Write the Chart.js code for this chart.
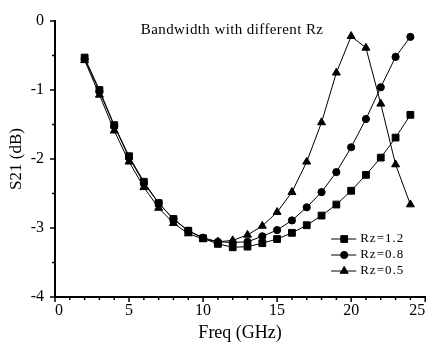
<!DOCTYPE html>
<html>
<head>
<meta charset="utf-8">
<script src="https://cdn.jsdelivr.net/npm/chart.js@4/dist/chart.umd.min.js"></script>
<style>
    html, body { margin: 0; padding: 0; background: #fff; }
    #wrap { width: 431px; height: 344px; }
</style>
</head>
<body>
<div id="wrap"><canvas id="chart"></canvas></div>
<script>
// Freq (GHz)
const freqs = [2, 3, 4, 5, 6, 7, 8, 9, 10, 11, 12, 13, 14, 15, 16, 17, 18, 19, 20, 21, 22, 23, 24];

// S21 (dB) per Rz
const rz12 = [-0.53, -1.00, -1.51, -1.96, -2.33, -2.64, -2.87, -3.04, -3.15, -3.23, -3.28, -3.27, -3.22, -3.16, -3.07, -2.96, -2.82, -2.66, -2.46, -2.23, -1.98, -1.69, -1.36];
const rz08 = [-0.55, -1.02, -1.52, -1.98, -2.35, -2.64, -2.87, -3.04, -3.14, -3.20, -3.21, -3.20, -3.12, -3.03, -2.89, -2.70, -2.48, -2.19, -1.83, -1.42, -0.96, -0.52, -0.23];
const rz05 = [-0.57, -1.07, -1.59, -2.04, -2.41, -2.71, -2.93, -3.08, -3.16, -3.20, -3.18, -3.10, -2.97, -2.77, -2.48, -2.04, -1.47, -0.75, -0.22, -0.39, -1.20, -2.08, -2.66];

const seriesLabels = ['Rz=1.2', 'Rz=0.8', 'Rz=0.5'];
const seriesMarkers = ['rect', 'circle', 'triangle'];
const chartTitle = 'Bandwidth with different Rz';

const FONT = '"Liberation Serif", "Times New Roman", serif';

const toPoints = vals => vals.map((v, i) => ({ x: freqs[i], y: v }));

// ticks drawn by hand: major + minor, outward
const tickMarks = {
    id: 'tickMarks',
    afterDraw(chart) {
        const { ctx, chartArea, scales: { x, y } } = chart;
        ctx.save();
        ctx.strokeStyle = '#000';
        ctx.lineWidth = 1.5;
        for (let v = x.min; v <= x.max; v += 1) {
            const px = x.getPixelForValue(v);
            const len = v % 5 === 0 ? 5 : 3;
            ctx.beginPath();
            ctx.moveTo(px, chartArea.bottom);
            ctx.lineTo(px, chartArea.bottom + len);
            ctx.stroke();
        }
        for (let v = y.max; v >= y.min; v -= 0.5) {
            const py = y.getPixelForValue(v);
            const len = Number.isInteger(v) ? 5 : 3;
            ctx.beginPath();
            ctx.moveTo(chartArea.left, py);
            ctx.lineTo(chartArea.left - len, py);
            ctx.stroke();
        }
        ctx.restore();
    }
};

// title inside the plot
const innerTitle = {
    id: 'innerTitle',
    afterDraw(chart) {
        const { ctx, chartArea } = chart;
        ctx.save();
        ctx.fillStyle = '#000';
        ctx.font = '15px ' + FONT;
        ctx.letterSpacing = '0.4px';
        ctx.textAlign = 'center';
        ctx.textBaseline = 'middle';
        ctx.fillText(chartTitle, (chartArea.left + chartArea.right) / 2 - 8, chartArea.top + 9);
        ctx.restore();
    }
};

// legend: line with marker, bottom right inside plot
const innerLegend = {
    id: 'innerLegend',
    afterDraw(chart) {
        const { ctx, chartArea } = chart;
        const x0 = chartArea.right - 94;
        const y0 = chartArea.bottom - 58;
        ctx.save();
        ctx.font = '13px ' + FONT;
        ctx.letterSpacing = '1px';
        ctx.textBaseline = 'middle';
        chart.data.datasets.forEach((ds, i) => {
            const yy = y0 + i * 16;
            ctx.strokeStyle = '#000';
            ctx.lineWidth = 1;
            ctx.beginPath();
            ctx.moveTo(x0, yy);
            ctx.lineTo(x0 + 25, yy);
            ctx.stroke();
            ctx.fillStyle = '#000';
            Chart.helpers.drawPoint(ctx, {
                pointStyle: ds.pointStyle,
                radius: ds.pointRadius,
                borderWidth: 1
            }, x0 + 13, yy);
            ctx.fillStyle = '#000';
            ctx.fillText(ds.label, x0 + 29, yy);
        });
        ctx.restore();
    }
};

const datasets = [rz12, rz08, rz05].map((vals, i) => ({
    label: seriesLabels[i],
    data: toPoints(vals),
    borderColor: '#000',
    backgroundColor: '#000',
    borderWidth: 1,
    pointStyle: seriesMarkers[i],
    pointRadius: i === 0 ? 4.8 : (i === 1 ? 3.6 : 4.6),
    pointBackgroundColor: '#000',
    pointBorderColor: '#000',
    pointBorderWidth: 1,
    tension: 0
}));

new Chart(document.getElementById('chart'), {
    type: 'line',
    data: { datasets },
    options: {
        responsive: true,
        maintainAspectRatio: false,
        animation: false,
        layout: { padding: { top: 21, right: 4, left: 0, bottom: 0 } },
        plugins: {
            legend: { display: false },
            tooltip: { enabled: false }
        },
        scales: {
            x: {
                type: 'linear',
                min: 0,
                max: 25,
                border: { display: true, color: '#000', width: 2 },
                grid: { display: false, drawTicks: false },
                ticks: {
                    stepSize: 5,
                    color: '#000',
                    padding: 4,
                    maxRotation: 0,
                    align: 'inner',
                    font: { family: FONT, size: 16 }
                },
                title: {
                    display: true,
                    text: 'Freq (GHz)',
                    color: '#000',
                    font: { family: FONT, size: 18 },
                    padding: { top: 0, bottom: 0 }
                },
                afterFit(s) {
                    s.height = 47;
                    s.paddingLeft = 0;
                    s.paddingRight = 0;
                }
            },
            y: {
                min: -4,
                max: 0,
                border: { display: true, color: '#000', width: 2 },
                grid: { display: false, drawTicks: false },
                ticks: {
                    stepSize: 1,
                    color: '#000',
                    padding: 11,
                    font: { family: FONT, size: 16 }
                },
                title: {
                    display: true,
                    text: 'S21 (dB)',
                    color: '#000',
                    font: { family: FONT, size: 17 },
                    padding: { top: 6, bottom: 0 }
                },
                afterFit(s) {
                    s.width = 55;
                }
            }
        }
    },
    plugins: [tickMarks, innerTitle, innerLegend]
});
</script>
</body>
</html>
